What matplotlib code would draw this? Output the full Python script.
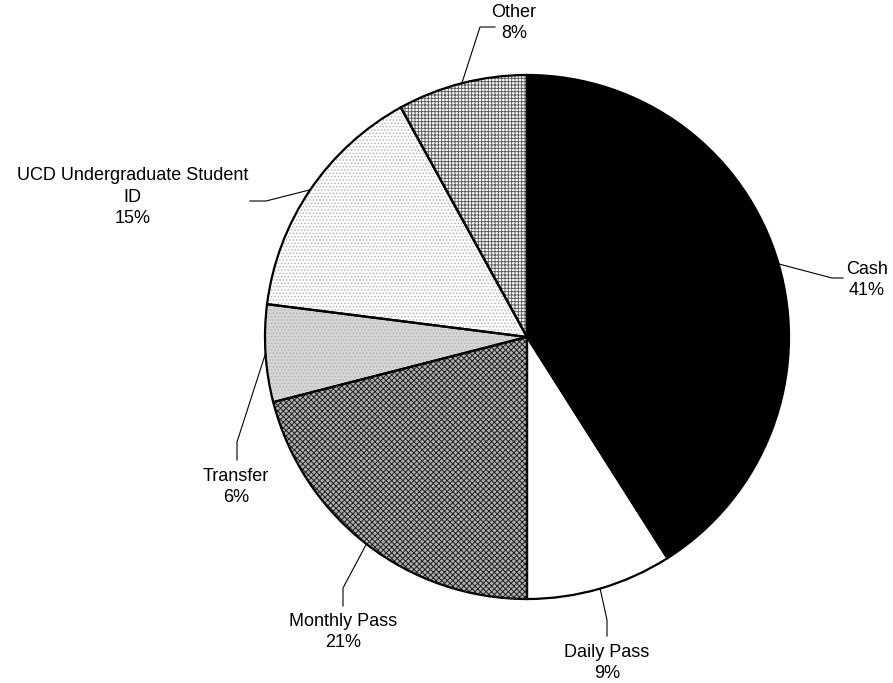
import numpy as np
import matplotlib.pyplot as plt

plt.rcParams['font.family'] = ['Liberation Sans', 'DejaVu Sans']
plt.rcParams['hatch.linewidth'] = 0.7

labels = ['Cash', 'Daily Pass', 'Monthly Pass', 'Transfer',
          'UCD Undergraduate Student\nID', 'Other']
shares = [41, 9, 21, 6, 15, 8]

# fill, hatch and hatch colour for each slice
faces = ['black', 'white', '#b0b0b0', '#d6d6d6', 'white', 'white']
hatches = ['', '', 'xxxxxx', '.....', '.....', '+++++']
hatch_cols = ['black', 'white', '#202020', '#b5b5b5', '#b5b5b5', '#606060']

W, H = 893, 683
cx, cy, r = 527, H - 337, 262

# label anchors (pixel coords, y measured from top) and alignment
label_pos = [(846, 280), (607, 663), (343, 632), (236, 487), (248, 197), (514, 23)]
label_ha = ['left', 'center', 'center', 'center', 'right', 'center']
elbows = [[(832, 278), (843, 278)],
          [(607, 620), (607, 636)],
          [(343, 588), (343, 606)],
          [(237, 442), (237, 460)],
          [(266, 201), (250, 201)],
          [(480, 27), (495, 27)]]

fig = plt.figure(figsize=(W / 100, H / 100), dpi=100)
ax = fig.add_axes([0, 0, 1, 1])

wedges, _ = ax.pie(shares, colors=faces, startangle=90, counterclock=False,
                   center=(cx, cy), radius=r, frame=True,
                   wedgeprops=dict(linewidth=0))
for w, h, hc in zip(wedges, hatches, hatch_cols):
    w.set_hatch(h)
    w.set_edgecolor(hc)

# slice outlines on top of the hatching
ax.pie(shares, startangle=90, counterclock=False, center=(cx, cy), radius=r,
       frame=True, wedgeprops=dict(fill=False, edgecolor='black', linewidth=1.6))
ax.set_xlim(0, W)
ax.set_ylim(0, H)
ax.set_aspect('equal')
ax.axis('off')

for w, lab, val, (lx, ly), ha, elb in zip(wedges, labels, shares, label_pos,
                                          label_ha, elbows):
    ang = np.deg2rad((w.theta1 + w.theta2) / 2)
    xs = [cx + r * np.cos(ang)] + [p[0] for p in elb]
    ys = [cy + r * np.sin(ang)] + [H - p[1] for p in elb]
    ax.plot(xs, ys, color='black', linewidth=0.8)
    ax.text(lx, H - ly, f'{lab}\n{val}%', ha=ha, va='center',
            multialignment='center', fontsize=13, linespacing=1.35)

fig.savefig('out.png', dpi=100)
